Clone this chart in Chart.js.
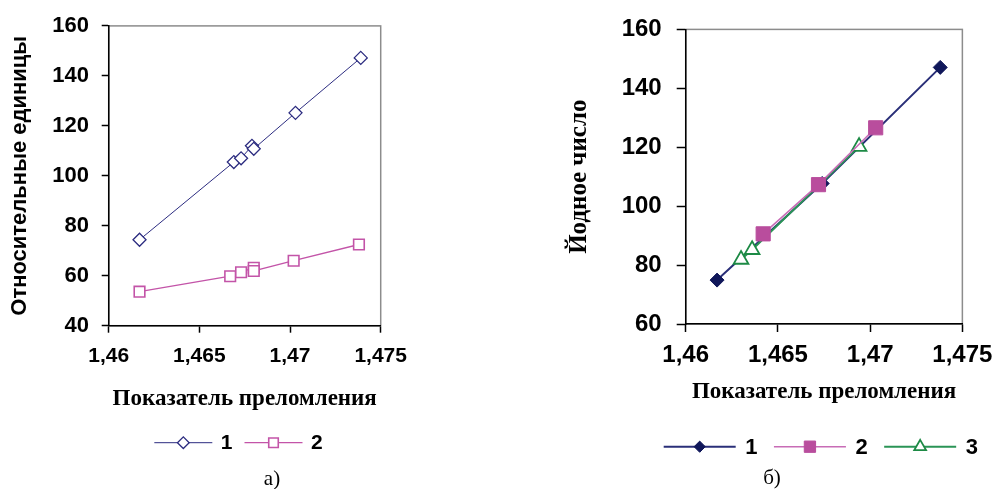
<!DOCTYPE html>
<html>
<head>
<meta charset="utf-8">
<script src="https://cdn.jsdelivr.net/npm/chart.js@4/dist/chart.umd.min.js"></script>
<style>
  body { margin: 0; background: #fff; width: 1001px; height: 489px; overflow: hidden; position: relative; }
  canvas { position: absolute; top: 0; }
  #chartA { left: 0; }
  #chartB { left: 500px; }
  .cap { position: absolute; width: 40px; text-align: center; font: 21px 'Liberation Serif', serif; line-height: 24px; }
</style>
</head>
<body>
<canvas id="chartA" width="500" height="489"></canvas>
<canvas id="chartB" width="501" height="489"></canvas>
<div class="cap" style="left:252px; top:466px;">а)</div>
<div class="cap" style="left:752px; top:465px;">б)</div>
<script>
'use strict';

// refractive index ticks
var xTickValues = [1.46, 1.465, 1.47, 1.475];
var xTickLabels = ['1,46', '1,465', '1,47', '1,475'];

// chart a
var a1X = [1.4617, 1.4669, 1.4673, 1.4679, 1.4680, 1.4703, 1.4739];
var a1Y = [74.4, 105.5, 107.0, 112.0, 110.8, 125.2, 147.2];
var a2X = [1.4617, 1.4667, 1.4673, 1.4680, 1.4680, 1.4702, 1.4738];
var a2Y = [53.6, 59.8, 61.4, 63.2, 61.9, 66.0, 72.5];

// chart b
var b1X = [1.4617, 1.4674, 1.4738];
var b1Y = [74.9, 107.7, 147.1];
var b2X = [1.4642, 1.4672, 1.4703];
var b2Y = [90.6, 107.3, 126.6];
var b3X = [1.4630, 1.4636, 1.4694];
var b3Y = [81.9, 85.2, 120.2];

function pts(xs, ys) {
  return xs.map(function (x, i) { return {x: x, y: ys[i]}; });
}

// gray box round the plot area, drawn under the axes
var frame = {
  id: 'frame',
  beforeDraw: function (chart) {
    var a = chart.chartArea, c = chart.ctx;
    c.save();
    c.strokeStyle = '#8c8c8c';
    c.lineWidth = 1.5;
    c.strokeRect(a.left, a.top, a.right - a.left, a.bottom - a.top);
    c.restore();
  }
};

// legend with the line running through the marker
var lineLegend = {
  id: 'lineLegend',
  afterDraw: function (chart, args, o) {
    var c = chart.ctx;
    var sets = chart.data.datasets;
    c.save();
    c.font = o.font;
    var widths = sets.map(function (d) {
      return o.lineLen + o.gap + c.measureText(d.label).width;
    });
    var total = widths.reduce(function (s, w) { return s + w; }, 0) + o.spacing * (sets.length - 1);
    var x = o.x - total / 2;
    sets.forEach(function (d, i) {
      c.strokeStyle = d.borderColor;
      c.lineWidth = d.borderWidth;
      c.beginPath();
      c.moveTo(x, o.y);
      c.lineTo(x + o.lineLen, o.y);
      c.stroke();
      c.fillStyle = d.pointBackgroundColor;
      c.strokeStyle = d.pointBorderColor;
      c.lineWidth = d.pointBorderWidth;
      Chart.helpers.drawPoint(c, {
        pointStyle: d.pointStyle, rotation: 0,
        radius: d.pointRadius * o.scale, borderWidth: d.pointBorderWidth
      }, x + o.lineLen / 2, o.y);
      c.fillStyle = '#000';
      c.textBaseline = 'middle';
      c.textAlign = 'left';
      c.fillText(d.label, x + o.lineLen + o.gap, o.y + 1);
      x += widths[i] + o.spacing;
    });
    c.restore();
  }
};

function xAxis(tickFont, tickLen, tickPad, height) {
  return {
    type: 'linear',
    min: 1.46,
    max: 1.475,
    afterBuildTicks: function (s) {
      s.ticks = xTickValues.map(function (v) { return {value: v}; });
    },
    afterFit: function (s) { s.height = height; },
    grid: {drawOnChartArea: false, drawTicks: true, tickLength: tickLen, tickColor: '#000', tickWidth: 1.5},
    border: {display: true, color: '#000', width: 1.5},
    ticks: {
      color: '#000',
      padding: tickPad,
      maxRotation: 0,
      font: {family: "'Liberation Sans', Arial", weight: 'bold', size: tickFont},
      callback: function (v, i) { return xTickLabels[i]; }
    },
    title: {
      display: true,
      text: 'Показатель преломления',
      color: '#000',
      padding: {top: 0, bottom: 0},
      font: {family: "'Liberation Serif', 'Times New Roman', serif", weight: 'bold', size: 23}
    }
  };
}

function yAxis(min, max, width, tickFont, tickLen, tickPad, title, titleFont, titlePad) {
  return {
    type: 'linear',
    min: min,
    max: max,
    afterFit: function (s) { s.width = width; },
    grid: {drawOnChartArea: false, drawTicks: true, tickLength: tickLen, tickColor: '#000', tickWidth: 1.5},
    border: {display: true, color: '#000', width: 1.5},
    ticks: {
      stepSize: 20,
      color: '#000',
      padding: tickPad,
      font: {family: "'Liberation Sans', Arial", weight: 'bold', size: tickFont}
    },
    title: {
      display: true,
      text: title,
      color: '#000',
      padding: {top: titlePad, bottom: 0},
      font: titleFont
    }
  };
}

// chart a
new Chart(document.getElementById('chartA'), {
  type: 'scatter',
  data: {
    datasets: [{
      label: '1',
      data: pts(a1X, a1Y),
      showLine: true,
      borderColor: '#2c2c80',
      borderWidth: 1,
      pointStyle: 'rectRot',
      pointRadius: 6.5,
      pointBackgroundColor: '#fff',
      pointBorderColor: '#2c2c80',
      pointBorderWidth: 1.3
    }, {
      label: '2',
      data: pts(a2X, a2Y),
      showLine: true,
      borderColor: '#c354a8',
      borderWidth: 1.3,
      pointStyle: 'rect',
      pointRadius: 7.5,
      pointBackgroundColor: '#fff',
      pointBorderColor: '#c354a8',
      pointBorderWidth: 1.6
    }]
  },
  options: {
    responsive: false,
    animation: false,
    layout: {padding: {left: 0, top: 22.7, right: 119.3, bottom: 76.2}},
    plugins: {
      legend: {display: false},
      tooltip: {enabled: false},
      lineLegend: {x: 238.5, y: 442.7, lineLen: 58, gap: 8.5, spacing: 12, scale: 0.9,
        font: "bold 21px 'Liberation Sans', Arial"}
    },
    scales: {
      x: xAxis(21, 7, 11.4, 87.1),
      y: yAxis(40, 160, 108.7, 22, 7, 12.7, 'Относительные единицы',
        {family: "'Liberation Sans', Arial", weight: 'bold', size: 22}, 6.8)
    }
  },
  plugins: [frame, lineLegend]
});

// chart b
new Chart(document.getElementById('chartB'), {
  type: 'scatter',
  data: {
    datasets: [{
      label: '1',
      data: pts(b1X, b1Y),
      showLine: true,
      order: 3,
      borderColor: '#2a2f78',
      borderWidth: 2,
      pointStyle: 'rectRot',
      pointRadius: 7,
      pointBackgroundColor: '#10175a',
      pointBorderColor: '#10175a',
      pointBorderWidth: 1
    }, {
      label: '2',
      data: pts(b2X, b2Y),
      showLine: true,
      order: 1,
      borderColor: '#c86cb6',
      borderWidth: 1.5,
      pointStyle: 'rect',
      pointRadius: 10,
      pointBackgroundColor: '#b94d9d',
      pointBorderColor: '#b94d9d',
      pointBorderWidth: 1
    }, {
      label: '3',
      data: pts(b3X, b3Y),
      showLine: true,
      order: 2,
      borderColor: '#2a9456',
      borderWidth: 2,
      pointStyle: 'triangle',
      pointRadius: 8.5,
      pointBackgroundColor: '#fff',
      pointBorderColor: '#1d8a45',
      pointBorderWidth: 1.8
    }]
  },
  options: {
    responsive: false,
    animation: false,
    layout: {padding: {left: 0, top: 24, right: 37.7, bottom: 83.2}},
    plugins: {
      legend: {display: false},
      tooltip: {enabled: false},
      lineLegend: {x: 320.8, y: 446.7, lineLen: 72, gap: 9.5, spacing: 16.5, scale: 0.8,
        font: "bold 22px 'Liberation Sans', Arial"}
    },
    scales: {
      x: xAxis(24, 8, 8.6, 81.8),
      y: yAxis(60, 160, 185.7, 24, 9, 15, 'Йодное число',
        {family: "'Liberation Serif', 'Times New Roman', serif", weight: 'bold', size: 25}, 65)
    }
  },
  plugins: [frame, lineLegend]
});
</script>
</body>
</html>
